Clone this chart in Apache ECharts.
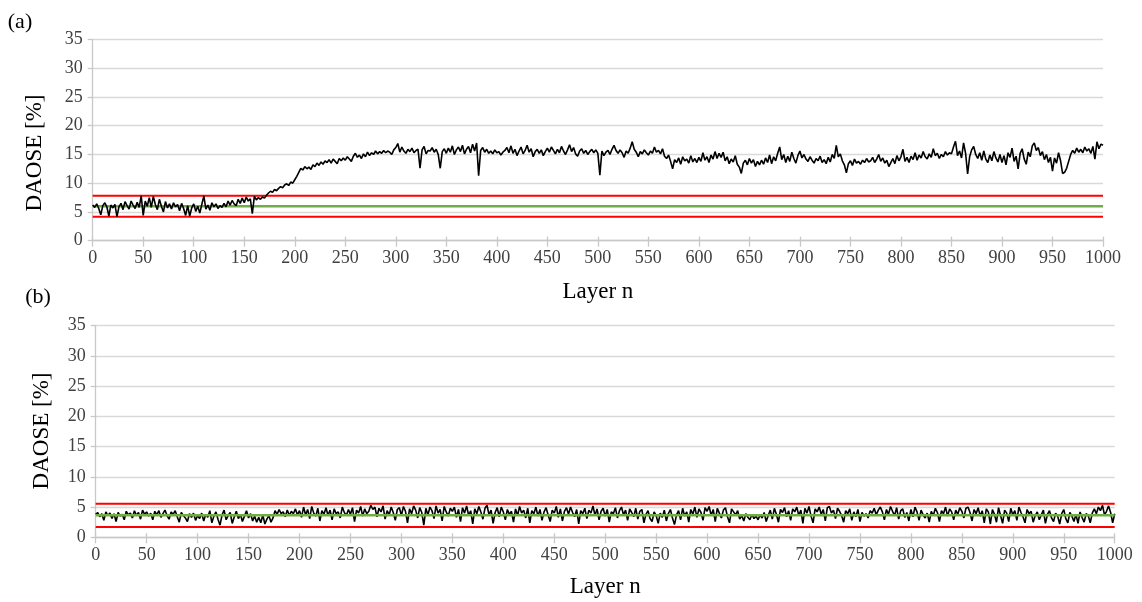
<!DOCTYPE html>
<html>
<head>
<meta charset="utf-8">
<script src="https://cdn.jsdelivr.net/npm/echarts@6/dist/echarts.min.js"></script>
<style>
html,body{margin:0;padding:0;background:#fff;}
#chart{width:1142px;height:602px;}
</style>
</head>
<body>
<div id="chart"></div>
<script>
// Layer step between stored samples
const layerStep = 2;
const xTicks = { min: 0, max: 1000, interval: 50 };
const yTicks = { min: 0, max: 35, interval: 5 };

// Panel (a): DAOSE [%] every 2 layers (n = 0..1000)
const daoseA = [
6.2,5.8,6.4,5.6,4.5,6.1,6.6,5.9,4.3,6.2,5.7,6.3,4.2,5.9,6.5,5.4,6.8,6.1,5.5,6.9,6.2,5.6,6.7,5.8,7.8,
4.4,6.9,6.0,7.5,5.8,7.7,6.3,5.4,7.2,6.0,5.0,6.8,5.7,6.4,5.5,6.6,5.9,6.3,5.2,6.5,5.6,4.4,6.1,4.3,5.7,
6.4,5.1,6.0,4.8,6.3,7.8,5.5,6.2,5.3,6.6,5.9,6.4,5.6,6.1,5.8,6.5,5.9,6.9,6.2,7.0,6.4,6.1,7.2,6.5,7.4,
6.6,7.6,6.9,7.3,4.7,7.7,7.1,7.5,7.2,7.6,7.4,7.9,8.3,8.6,8.4,8.9,8.7,9.1,9.4,9.2,9.7,9.9,9.6,10.2,10.0,
10.6,11.2,11.9,12.6,12.3,12.9,12.5,12.8,12.4,13.2,12.9,13.5,13.1,13.7,13.3,13.9,13.6,14.1,13.5,14.2,13.8,13.4,14.3,13.9,14.4,
14.0,14.6,14.2,13.8,14.7,15.2,14.5,14.9,14.3,15.1,14.6,15.4,14.8,15.3,15.0,15.6,15.1,15.5,15.2,15.7,15.3,15.6,15.4,15.0,15.8,
16.2,16.9,15.4,16.3,15.6,15.2,15.9,15.5,16.1,15.3,15.7,15.9,12.6,15.8,16.4,15.1,15.7,15.6,16.2,15.4,15.9,15.0,12.6,15.5,16.0,
15.2,16.1,15.4,16.5,15.0,15.8,16.3,15.5,16.6,15.1,15.9,16.4,15.3,16.8,15.6,17.0,11.3,15.7,16.2,15.4,15.9,15.2,15.6,15.1,15.8,
15.3,15.5,14.9,15.4,15.7,16.2,15.3,16.5,15.2,15.9,14.8,15.6,16.3,15.1,15.7,16.6,15.4,16.0,14.6,15.5,15.9,15.2,15.8,14.8,15.5,
16.1,15.4,16.3,15.7,15.1,15.9,15.3,16.4,15.6,15.0,15.8,16.7,15.5,16.2,15.1,14.7,15.6,16.0,15.2,15.7,15.0,15.5,15.9,15.3,15.8,
15.2,11.4,15.6,14.8,15.4,15.7,15.0,15.9,16.6,15.7,15.2,15.8,15.3,14.5,15.6,15.2,16.1,17.2,15.9,15.4,14.6,15.5,15.1,15.8,15.3,
14.9,15.6,15.2,16.3,15.4,15.7,15.1,16.0,14.7,14.3,14.9,13.8,12.5,14.1,13.6,14.4,13.3,14.6,13.9,14.2,13.5,14.8,13.7,14.3,13.6,
14.5,13.8,15.3,14.0,14.6,13.6,14.9,14.2,15.5,14.3,15.2,14.5,15.4,13.9,14.6,13.4,14.2,13.7,14.8,13.3,12.8,11.7,13.5,14.0,13.2,
14.3,13.5,14.1,12.9,13.8,13.2,14.0,13.3,14.4,13.6,14.9,13.4,14.6,13.9,15.2,16.3,14.1,15.0,13.6,14.7,13.8,15.4,14.3,13.5,14.8,
15.6,14.4,15.0,14.2,13.8,14.6,14.0,13.5,14.3,13.9,14.7,13.6,14.1,13.4,14.5,13.7,15.0,14.3,16.6,14.6,15.1,13.9,13.2,11.8,13.4,
13.9,13.1,14.2,13.5,13.8,13.3,14.0,13.6,14.3,13.7,13.9,14.5,13.6,14.2,15.0,13.8,14.4,13.5,14.0,12.9,13.6,14.3,13.4,14.8,13.9,
14.6,15.9,13.8,14.5,13.6,14.7,14.1,15.3,14.0,14.9,14.4,15.5,14.6,14.2,15.1,14.5,16.0,14.8,15.2,14.3,15.0,14.6,15.5,14.9,15.3,
15.1,16.3,17.3,14.8,15.6,14.4,17.0,15.2,11.6,14.6,15.8,16.4,15.0,14.3,15.3,14.0,15.6,14.2,13.6,14.9,13.9,15.5,14.4,13.7,15.0,
13.6,14.8,13.2,15.3,14.5,16.1,13.8,14.7,12.5,15.2,16.0,14.2,13.3,15.4,14.6,16.5,17.0,15.7,16.2,14.8,15.5,14.1,15.0,13.6,14.5,
12.1,14.4,13.5,15.3,13.9,11.7,11.9,12.6,13.8,15.0,15.7,15.2,16.1,15.4,15.9,15.3,16.3,15.6,16.0,15.2,16.4,14.2,17.2,16.0,16.8,
16.6
];

// Panel (b): DAOSE [%] every 2 layers (n = 0..1000)
const daoseB = [
3.8,4.1,3.4,3.9,2.8,4.2,3.6,4.0,3.1,3.9,2.6,4.1,3.5,3.8,2.9,4.3,3.7,4.0,3.2,4.4,3.6,4.1,3.0,4.5,3.8,
4.2,3.5,4.0,2.9,4.3,3.7,4.4,3.3,3.9,4.5,3.6,3.0,4.2,3.8,4.4,3.4,2.5,4.1,3.6,3.2,2.6,3.9,3.3,4.0,2.8,
3.6,3.1,4.0,2.7,3.8,3.3,4.4,2.4,3.5,4.2,3.0,2.0,3.7,4.5,2.9,3.6,4.1,2.3,3.4,4.3,3.1,3.8,2.6,3.5,4.4,
3.2,3.9,2.7,3.5,2.5,3.3,2.4,3.7,2.2,3.0,3.6,2.5,3.2,4.4,3.8,4.6,3.9,4.2,3.4,4.5,3.6,4.3,3.9,4.7,3.7,
4.4,3.3,5.0,3.7,4.6,3.1,5.1,4.0,3.5,4.8,2.7,4.4,3.8,4.9,3.6,4.5,2.9,4.7,3.9,4.2,3.2,5.0,4.1,3.6,4.6,
3.8,4.9,2.6,4.5,4.0,5.1,3.5,4.7,3.9,4.3,5.3,4.6,5.0,3.4,4.8,4.2,5.2,3.0,4.4,3.7,5.0,4.1,2.8,4.6,4.9,
3.6,5.1,4.3,2.4,4.7,3.9,5.2,4.5,3.2,4.9,4.1,2.0,4.8,3.7,5.0,4.4,3.1,5.2,4.0,4.6,2.7,5.1,4.2,3.5,4.8,
4.3,5.0,3.3,4.6,2.6,4.9,4.0,5.2,3.6,4.4,2.2,4.7,3.9,5.1,4.2,3.0,4.8,5.3,3.7,4.5,2.3,4.1,4.9,3.4,5.0,
4.2,2.9,4.6,3.8,4.3,2.5,4.7,3.6,5.1,4.0,4.5,3.2,4.8,2.4,4.4,3.9,5.0,3.5,4.6,2.8,4.2,4.9,3.7,2.6,4.5,
4.0,5.1,3.3,4.7,2.7,4.3,4.9,3.8,5.0,4.1,3.4,4.6,2.2,4.4,3.9,4.8,3.1,4.5,4.0,5.2,3.6,4.7,2.9,4.3,4.8,
3.5,4.6,2.5,4.2,3.9,4.9,3.2,4.4,5.0,3.7,4.5,2.8,4.7,4.1,3.4,4.8,3.0,4.3,4.6,2.4,3.8,4.4,3.1,2.6,4.2,
3.6,2.3,4.0,3.3,4.5,2.7,3.9,4.6,3.2,2.1,3.7,4.4,2.9,4.8,3.5,4.2,2.5,4.6,3.8,5.0,3.3,4.7,4.1,2.8,4.9,
4.3,5.1,3.6,4.6,2.6,4.8,4.0,3.2,4.5,4.9,3.4,2.4,4.7,4.2,3.7,4.4,3.0,3.6,2.7,3.9,3.3,2.9,3.8,3.1,3.5,
2.9,3.7,3.2,4.1,2.6,3.6,4.5,3.0,4.8,3.8,2.5,4.6,4.1,4.9,3.4,4.4,2.8,4.7,4.2,5.0,3.6,4.5,2.3,4.8,4.0,
5.1,3.5,2.4,4.7,4.2,5.0,3.8,4.6,2.7,4.9,5.1,4.0,4.5,3.1,4.8,4.3,3.6,2.5,4.4,3.9,4.7,2.8,4.2,3.4,4.6,
2.6,4.1,3.5,3.9,3.2,4.4,4.0,4.8,3.7,4.5,5.0,4.2,2.9,4.6,3.8,5.1,4.3,3.6,4.9,3.0,4.4,4.7,3.3,4.1,2.7,
4.6,3.4,5.0,4.2,2.8,4.5,3.7,3.2,4.0,2.5,4.3,3.6,4.8,4.1,2.6,4.4,3.9,5.0,3.5,4.7,4.2,2.9,4.5,3.8,4.9,
4.3,3.2,4.8,5.0,4.1,2.7,4.6,3.9,4.9,3.5,4.4,2.4,4.7,4.2,2.2,4.6,3.8,2.5,4.9,3.6,2.3,4.5,4.0,2.6,4.8,
3.7,4.4,2.8,5.0,4.1,3.4,2.4,4.6,3.9,4.3,2.5,3.6,4.2,2.9,3.7,4.5,2.3,3.8,4.4,3.2,2.6,4.0,3.5,2.2,3.9,
4.6,3.1,2.4,4.1,3.5,2.6,3.8,2.3,4.2,3.3,2.5,3.9,3.6,2.4,4.0,4.7,3.9,5.0,4.4,5.3,3.7,4.3,5.2,4.1,2.4,
3.9
];

// Control limits: [upper, mean, lower]
const limitsA = [7.83, 6.0, 4.17];
const limitsB = [5.56, 3.63, 1.7];

const panelLabels = ['(a)', '(b)'];
const yName = 'DAOSE [%]';
const xName = 'Layer n';

const FONT = '"Liberation Serif", "Times New Roman", serif';

function toPairs(arr) {
  return arr.map((v, i) => [i * layerStep, v]);
}
function hLine(v) {
  return [[xTicks.min, v], [xTicks.max, v]];
}
const plainNum = (v) => String(v);

const grids = [
  { left: 92.7, right: 39, top: 39.5, height: 201.2 },
  { left: 95.7, right: 27.3, top: 325.7, height: 211.6 }
];

function mainX(gi, gap) {
  return {
    type: 'value', gridIndex: gi, min: xTicks.min, max: xTicks.max, interval: xTicks.interval,
    name: xName, nameLocation: 'middle', nameGap: gap,
    nameTextStyle: { fontFamily: FONT, fontSize: 23, color: '#000' },
    axisLine: { show: true, lineStyle: { color: '#c8c8c8', width: 1.3 } },
    axisTick: { show: true, length: 6, lineStyle: { color: '#c8c8c8', width: 1.3 } },
    axisLabel: { fontFamily: FONT, fontSize: 18, color: '#404040', margin: 9, formatter: plainNum },
    splitLine: { show: false }
  };
}
function innerX(gi) {
  return {
    type: 'value', gridIndex: gi, min: xTicks.min, max: xTicks.max, interval: xTicks.interval,
    position: 'bottom',
    axisLine: { show: false },
    axisTick: { show: true, inside: true, length: 4, lineStyle: { color: '#c8c8c8', width: 1.3 } },
    axisLabel: { show: false },
    splitLine: { show: false }
  };
}
function mainY(gi) {
  return {
    type: 'value', gridIndex: gi, min: yTicks.min, max: yTicks.max, interval: yTicks.interval,
    axisLine: { show: true, lineStyle: { color: '#c8c8c8', width: 1.3 } },
    axisTick: { show: true, length: 5, lineStyle: { color: '#c8c8c8', width: 1.3 } },
    axisLabel: { fontFamily: FONT, fontSize: 18, color: '#404040', margin: 10, formatter: plainNum },
    splitLine: { show: true, lineStyle: { color: '#d9d9d9', width: 1.3 } }
  };
}

function limitSeries(xi, yi, lims, z) {
  const cols = ['#ff0000', '#70ad47', '#ff0000'];
  const widths = [2, 2.5, 2];
  return lims.map((v, k) => ({
    type: 'line', xAxisIndex: xi, yAxisIndex: yi, data: hLine(v), symbol: 'none',
    lineStyle: { color: cols[k], width: widths[k] }, z: z, silent: true, animation: false
  }));
}

const option = {
  animation: false,
  backgroundColor: '#fff',
  grid: grids,
  xAxis: [mainX(0, 40), mainX(1, 38), innerX(0), innerX(1)],
  yAxis: [mainY(0), mainY(1)],
  graphic: [
    { type: 'text', x: 20, y: 22, style: { text: panelLabels[0], font: '22px ' + FONT, fill: '#000', textAlign: 'center', textVerticalAlign: 'middle', align: 'center', verticalAlign: 'middle' } },
    { type: 'text', x: 38, y: 297, style: { text: panelLabels[1], font: '22px ' + FONT, fill: '#000', textAlign: 'center', textVerticalAlign: 'middle', align: 'center', verticalAlign: 'middle' } },
    { type: 'text', x: 35, y: 153, rotation: Math.PI / 2, style: { text: yName, font: '23px ' + FONT, fill: '#000', textAlign: 'center', textVerticalAlign: 'middle', align: 'center', verticalAlign: 'middle' } },
    { type: 'text', x: 42, y: 431, rotation: Math.PI / 2, style: { text: yName, font: '23px ' + FONT, fill: '#000', textAlign: 'center', textVerticalAlign: 'middle', align: 'center', verticalAlign: 'middle' } }
  ],
  series: [
    ...limitSeries(0, 0, limitsA, 2),
    { type: 'line', xAxisIndex: 0, yAxisIndex: 0, data: toPairs(daoseA), symbol: 'none',
      lineStyle: { color: '#000', width: 1.6 }, z: 3 },
    { type: 'line', xAxisIndex: 1, yAxisIndex: 1, data: toPairs(daoseB), symbol: 'none',
      lineStyle: { color: '#000', width: 1.6 }, z: 2 },
    ...limitSeries(1, 1, limitsB, 3)
  ]
};

const chart = echarts.init(document.getElementById('chart'), null, { renderer: 'canvas' });
chart.setOption(option);
</script>
</body>
</html>
